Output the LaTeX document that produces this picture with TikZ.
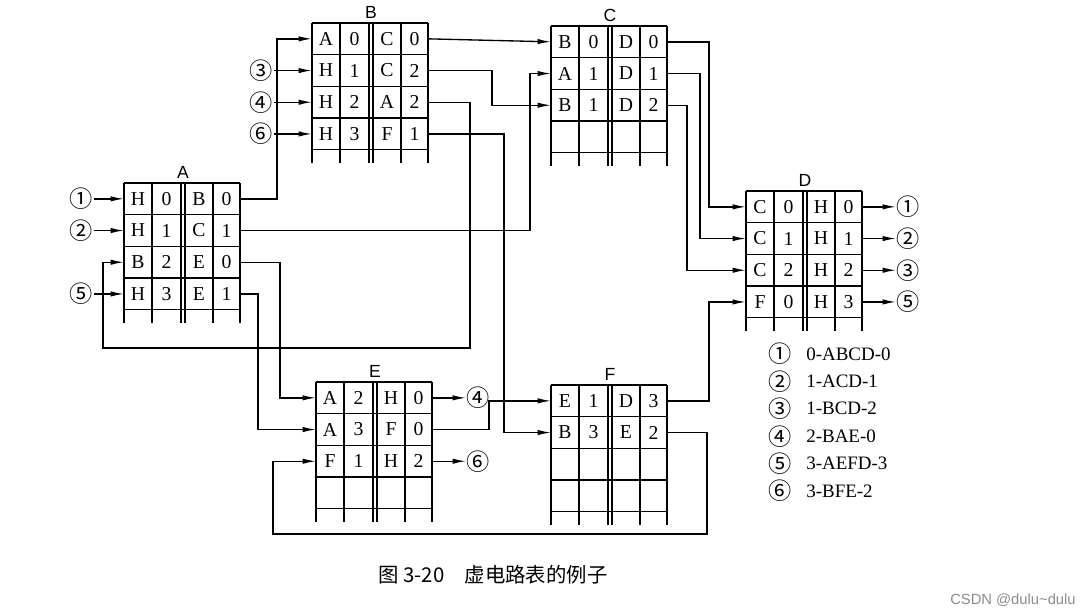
\documentclass[tikz,border=0pt]{standalone}
\usepackage{fontspec}
\setmainfont{Liberation Serif}
\newfontfamily\labelfont{Liberation Sans}
\newfontfamily\cjkfont{Noto Sans CJK SC}
\usetikzlibrary{arrows.meta,positioning}

% tablica obwodow: nazwa, x, y, wiersze (we/nr/wy/nr)
\newcommand{\vctable}[4]{%
  \begin{scope}[shift={(#2,#3)}]
    \foreach \r in {0,...,4}
      \draw[gridline] (0,\r*31.7) -- (116,\r*31.7);
    \foreach \c in {0,28,57,61,89,116}
      \draw[gridline] (\c,0) -- (\c,139.8);
    \node[tabtitle] (#1) at (59,-11) {#1};
    \foreach \r in {1,...,4} {
      \coordinate (#1-in-\r) at (0,\r*31.7-15.85);
      \coordinate (#1-out-\r) at (116,\r*31.7-15.85);
    }
    \foreach \a/\b/\c/\d [count=\r] in {#4} {
      \node[cell] (#1-\r-1) at (14,\r*31.7-15.85) {\a};
      \node[cell] (#1-\r-2) at (42.5,\r*31.7-15.85) {\b};
      \node[cell] (#1-\r-3) at (75,\r*31.7-15.85) {\c};
      \node[cell] (#1-\r-4) at (102.5,\r*31.7-15.85) {\d};
    }
  \end{scope}}

\begin{document}
\begin{tikzpicture}[x=0.025cm, y=-0.025cm,
    gridline/.style={line width=0.95pt},
    wire/.style={line width=0.95pt, -{Latex[length=9.5pt,width=3.8pt]}},
    cell/.style={inner sep=0pt, font=\fontsize{14}{16}\selectfont},
    tabtitle/.style={inner sep=0pt, font=\labelfont\fontsize{12.5}{14}\selectfont},
    circnum/.style={inner sep=0.5pt, font=\cjkfont\fontsize{16.5}{18}\selectfont},
    legtext/.style={inner sep=0pt, anchor=west, font=\fontsize{13.5}{16}\selectfont},
    caption/.style={inner sep=0pt, font=\cjkfont\fontsize{14.5}{17}\selectfont},
    wmark/.style={inner sep=0pt, text=black!45, font=\labelfont\fontsize{10.5}{12}\selectfont}]
    \useasboundingbox (0,0) rectangle (1088,615);

    % tablice w wezlach A-F
    \vctable{A}{124}{183}{H/0/B/0, H/1/C/1, B/2/E/0, H/3/E/1}
    \vctable{B}{312}{23}{A/0/C/0, H/1/C/2, H/2/A/2, H/3/F/1}
    \vctable{C}{551}{26}{B/0/D/0, A/1/D/1, B/1/D/2}
    \vctable{D}{746}{191}{C/0/H/0, C/1/H/1, C/2/H/2, F/0/H/3}
    \vctable{E}{316}{382}{A/2/H/0, A/3/F/0, F/1/H/2}
    \vctable{F}{551}{385}{E/1/D/3, B/3/E/2}

    % wejscia od hostow
    \node[circnum, left=7.5mm of A-in-1] (inA1) {①};
    \node[circnum, left=7.5mm of A-in-2] (inA2) {②};
    \node[circnum, left=7.5mm of A-in-4] (inA4) {⑤};
    \node[circnum, left=9.5mm of B-in-2] (inB2) {③};
    \node[circnum, left=9.5mm of B-in-3] (inB3) {④};
    \node[circnum, left=9.5mm of B-in-4] (inB4) {⑥};
    \draw[wire] (inA1) -- (A-in-1);
    \draw[wire] (inA2) -- (A-in-2);
    \draw[wire] (inA4) -- (A-in-4);
    \draw[wire] (inB2) -- (B-in-2);
    \draw[wire] (inB3) -- (B-in-3);
    \draw[wire] (inB4) -- (B-in-4);

    % wyjscia do hostow
    \node[circnum, right=8.5mm of D-out-1] (outD1) {①};
    \node[circnum, right=8.5mm of D-out-2] (outD2) {②};
    \node[circnum, right=8.5mm of D-out-3] (outD3) {③};
    \node[circnum, right=8.5mm of D-out-4] (outD4) {⑤};
    \node[circnum, right=8.5mm of E-out-1] (outE1) {④};
    \node[circnum, right=8.5mm of E-out-3] (outE3) {⑥};
    \draw[wire] (D-out-1) -- (outD1);
    \draw[wire] (D-out-2) -- (outD2);
    \draw[wire] (D-out-3) -- (outD3);
    \draw[wire] (D-out-4) -- (outD4);
    \draw[wire] (E-out-1) -- (outE1);
    \draw[wire] (E-out-3) -- (outE3);

    % polaczenia miedzy tablicami
    \draw[wire] (A-out-1) -- ++(37,0) |- (B-in-1);
    \draw[wire] (A-out-2) -- ++(290,0) |- (C-in-2);
    \draw[wire] (A-out-3) -- ++(40,0) |- (E-in-1);
    \draw[wire] (A-out-4) -- ++(18,0) |- (E-in-2);
    \draw[wire] (B-out-1) -- (C-in-1);
    \draw[wire] (B-out-2) -- ++(64,0) |- (C-in-3);
    \draw[wire] (B-out-3) -- ++(42,0) |- (103,348) |- (A-in-3);
    \draw[wire] (B-out-4) -- ++(76,0) |- (F-in-2);
    \draw[wire] (C-out-1) -- ++(42,0) |- (D-in-1);
    \draw[wire] (C-out-2) -- ++(33,0) |- (D-in-2);
    \draw[wire] (C-out-3) -- ++(20,0) |- (D-in-3);
    \draw[wire] (E-out-2) -- ++(57,0) |- (F-in-1);
    \draw[wire] (F-out-1) -- ++(42,0) |- (D-in-4);
    \draw[wire] (F-out-2) -- ++(40,0) |- (273,534) |- (E-in-3);

    % legenda
    \foreach \s/\t [count=\i] in {①/0-ABCD-0, ②/1-ACD-1, ③/1-BCD-2,
                                  ④/2-BAE-0, ⑤/3-AEFD-3, ⑥/3-BFE-2} {
        \node[circnum] (leg-\i) at (780,326.6+27.4*\i) {\s};
        \node[legtext] (legt-\i) at (806,326.6+27.4*\i) {\t};
    }

    % podpis
    \node[caption] (cap) at (493,575) {图 3-20\quad 虚电路表的例子};
    \node[wmark] (csdn) at (1013,600) {CSDN @dulu\textasciitilde dulu};
\end{tikzpicture}
\end{document}
